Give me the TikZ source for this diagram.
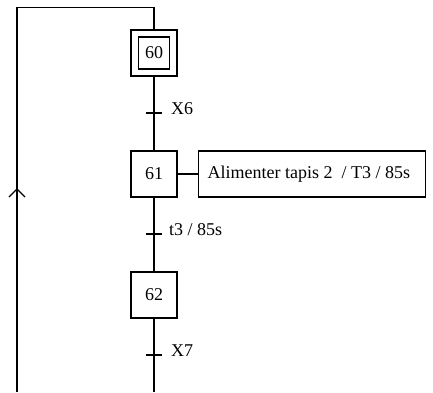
\documentclass[tikz,border=0pt]{standalone}
\usepackage{fontspec}
\setmainfont{Liberation Serif}
\usetikzlibrary{arrows.meta}
\begin{document}
\begin{tikzpicture}[x=1pt,y=-1pt,
  ln/.style={line width=1.2pt},
  txt/.style={font=\fontsize{18}{20}\selectfont},
  stepbox/.style={draw,line width=1.2pt,minimum width=46pt,minimum height=46pt,inner sep=0pt,txt},
  inbox/.style={draw,line width=1.2pt,minimum width=31pt,minimum height=32pt,inner sep=0pt,txt},
  actbox/.style={draw,line width=1.2pt,inner xsep=9pt,inner ysep=0pt,minimum height=46pt,anchor=west,txt},
  tick/.style={line width=1.2pt},
  tlabel/.style={anchor=west,inner sep=0pt,txt}]
\useasboundingbox (0,0) rectangle (433,392);
% nodes
\node[stepbox] (s60) at (154,53) {};
\node[inbox] (s60i) at (154,53) {60};
\node[stepbox] (s61) at (154,174) {61};
\node[actbox] (a61) at (198,174) {\makebox[209pt][l]{Alimenter tapis 2\ \ / T3 / 85s}};
\node[stepbox] (s62) at (154,295) {62};
\coordinate (top) at (154,7.5);
\coordinate (tl) at (17,7.5);
\coordinate (bl) at (17,392);
\coordinate (bot) at (154,392);
\coordinate (t6) at (154,113);
\coordinate (t3) at (154,234);
\coordinate (t7) at (154,355);
\coordinate (arr) at (17,189);
% links
\draw[ln] (s60.north) -- (top) -- (tl) -- (bl);
\draw[ln] (s60.south) -- (s61.north);
\draw[ln] (s61.south) -- (s62.north);
\draw[ln] (s62.south) -- (bot);
\draw[ln] (s61.east) -- (a61.west);
% arrow on return line
\draw[line width=1.2pt] ([xshift=-8pt,yshift=-8pt]arr) -- (arr) -- ([xshift=8pt,yshift=-8pt]arr);
% transitions
\draw[tick] ([xshift=-8pt]t6) -- ([xshift=8pt]t6);
\draw[tick] ([xshift=-8pt]t3) -- ([xshift=8pt]t3);
\draw[tick] ([xshift=-8pt]t7) -- ([xshift=8pt]t7);
\node[tlabel] (l6) at (171,109) {X6};
\node[tlabel] (l3) at (169,230) {t3 / 85s};
\node[tlabel] (l7) at (171,351) {X7};
\end{tikzpicture}
\end{document}
